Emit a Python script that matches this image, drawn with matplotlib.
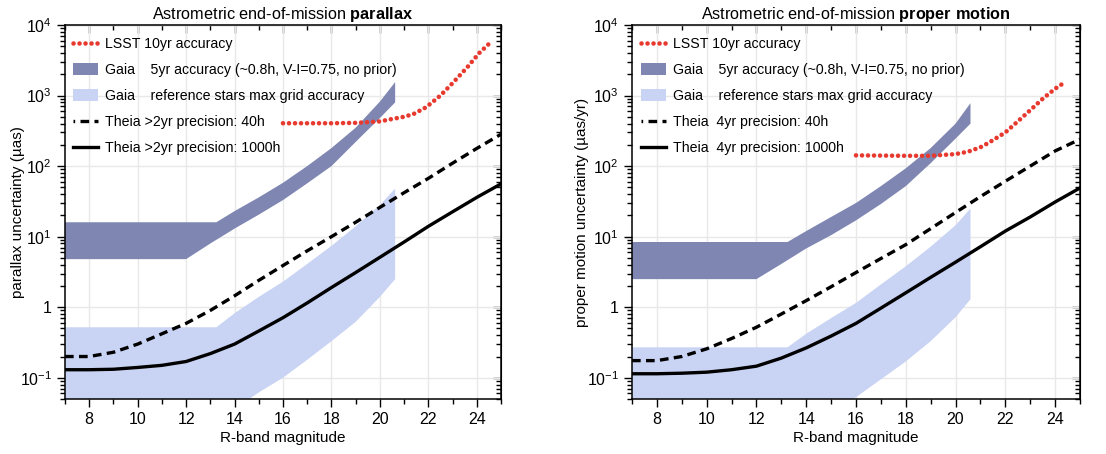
import numpy as np
import matplotlib
matplotlib.use("Agg")
from matplotlib import pyplot as plt
from matplotlib.ticker import MultipleLocator, LogLocator, FuncFormatter, NullFormatter
from matplotlib.lines import Line2D
from matplotlib.patches import Patch

plt.rcParams['font.family'] = ['Liberation Sans', 'DejaVu Sans']
plt.rcParams['mathtext.fontset'] = 'custom'
plt.rcParams['mathtext.rm'] = 'Liberation Sans'
plt.rcParams['mathtext.bf'] = 'Liberation Sans:bold'

# ---- parallax panel (values in muas) ----
gaia_px_up_mag = [7, 13.25, 14, 15, 16, 17, 18, 19, 20, 20.63]
gaia_px_up = [16, 16, 23, 36, 58, 100, 180, 350, 820, 1550]
gaia_px_lo_mag = [7, 12, 13, 14, 15, 16, 17, 18, 19, 20, 20.63]
gaia_px_lo = [4.8, 4.8, 8, 13, 20.5, 33, 57, 100, 220, 480, 800]

ref_px_up_mag = [7, 13.25, 14, 15, 16, 17, 18, 19, 20, 20.63]
ref_px_up = [0.52, 0.52, 0.82, 1.4, 2.3, 4.1, 7.4, 14, 28, 48]
ref_px_lo_mag = [7, 12, 13, 14, 15, 16, 17, 18, 19, 20, 20.63]
ref_px_lo = [0.015, 0.015, 0.022, 0.036, 0.062, 0.1, 0.18, 0.33, 0.62, 1.4, 2.5]

theia_mag = [7, 8, 9, 10, 11, 12, 13, 14, 15, 16, 17, 18, 19, 20, 21, 22, 23, 24, 25]
theia_px_40h = [0.2, 0.2, 0.23, 0.3, 0.42, 0.59, 0.9, 1.45, 2.4, 3.9, 6.3, 10, 16, 26, 42, 67, 110, 178, 283]
theia_px_1000h = [0.13, 0.13, 0.132, 0.14, 0.15, 0.17, 0.22, 0.3, 0.46, 0.71, 1.15, 1.9, 3.1, 5.1, 8.4, 14, 22.5, 36, 56]

lsst_px_mag = [16, 17, 18, 19, 20, 20.5, 21, 21.4, 21.9, 22.5, 23, 23.6, 24.1, 24.5]
lsst_px = [405, 405, 405, 410, 430, 465, 500, 550, 680, 1000, 1500, 2500, 4000, 5400]

# ---- proper motion panel (values in muas/yr) ----
gaia_pm_up_mag = [7, 13.25, 14, 15, 16, 17, 18, 19, 20, 20.6]
gaia_pm_up = [8.4, 8.4, 12, 19, 30, 52, 93, 180, 400, 780]
gaia_pm_lo_mag = [7, 12, 13, 14, 15, 16, 17, 18, 19, 20, 20.6]
gaia_pm_lo = [2.5, 2.5, 4.1, 6.8, 10.5, 17, 29, 52, 110, 245, 400]

ref_pm_up_mag = [7, 13.25, 14, 15, 16, 17, 18, 19, 20, 20.6]
ref_pm_up = [0.27, 0.27, 0.42, 0.7, 1.15, 2.1, 3.8, 7.2, 14.5, 25]
ref_pm_lo_mag = [7, 12, 13, 14, 15, 16, 17, 18, 19, 20, 20.6]
ref_pm_lo = [0.008, 0.008, 0.012, 0.019, 0.033, 0.053, 0.095, 0.17, 0.33, 0.72, 1.3]

theia_pm_40h = [0.175, 0.175, 0.2, 0.257, 0.36, 0.52, 0.8, 1.24, 1.95, 3.1, 4.9, 7.7, 13, 22, 37, 61, 100, 164, 240]
theia_pm_1000h = [0.114, 0.114, 0.116, 0.12, 0.13, 0.146, 0.19, 0.265, 0.39, 0.59, 0.97, 1.6, 2.65, 4.35, 7.2, 12, 19, 31, 49]

lsst_pm_mag = [16, 17, 18, 19, 20, 20.5, 21, 21.34, 22, 22.5, 23, 23.5, 24, 24.4]
lsst_pm = [142, 141, 140, 140, 148, 160, 185, 215, 300, 430, 620, 900, 1250, 1550]

dark = '#7e86b1'
light = '#c9d3f3'
red = '#e8392f'
dots = (0, (0.01, 1.3))
dashes = (0, (2.6, 1.6))

W, H = 1106, 454
LEG_FS = 10.2


def ytick(v, pos):
    if abs(v - 1) < 1e-9:
        return '1'
    return r'$10^{%d}$' % int(round(np.log10(v)))


def make_legend(ax, handles, labels, ls, anchor):
    return ax.legend(handles, labels, loc='upper left', bbox_to_anchor=anchor,
                     frameon=False, fontsize=LEG_FS,
                     handlelength=1.8, handleheight=0.87, handletextpad=0.46,
                     labelspacing=ls, borderaxespad=0, borderpad=0)


def place_legend(fig, ax, handles, labels, text_x, first_y, pitch):
    # put the legend rows where the reference has them (pixel targets)
    em = LEG_FS * 100 / 72.0
    ls = 0.9
    leg = make_legend(ax, handles, labels, ls, (0, 1))
    fig.canvas.draw()
    r = fig.canvas.get_renderer()
    ext = [t.get_window_extent(r) for t in leg.get_texts()]
    cur = ((ext[0].y0 + ext[0].y1) - (ext[-1].y0 + ext[-1].y1)) / 2 / (len(ext) - 1)
    ls = ls + (pitch - cur) / em
    leg.remove()
    leg = make_legend(ax, handles, labels, ls, (0, 1))
    fig.canvas.draw()
    ext = leg.get_texts()[0].get_window_extent(r)
    bb = ax.get_window_extent(r)
    dx = (text_x - ext.x0) / bb.width
    dy = ((H - first_y) - (ext.y0 + ext.y1) / 2) / bb.height
    leg.remove()
    make_legend(ax, handles, labels, ls, (dx, 1 + dy))


def panel(fig, ax, title, ylabel, gu_m, gu, gl_m, gl, ru_m, ru, rl_m, rl,
          t40, t1000, ls_m, ls, theia_txt, text_x, ylab_x):
    ax.fill(list(gu_m) + list(gl_m[::-1]), list(gu) + list(gl[::-1]),
            color=dark, lw=0, zorder=2)
    ax.fill(list(ru_m) + list(rl_m[::-1]), list(ru) + list(rl[::-1]),
            color=light, lw=0, zorder=2)
    ax.plot(theia_mag, t40, color='k', lw=2.4, linestyle=dashes, zorder=3)
    ax.plot(theia_mag, t1000, color='k', lw=2.4, zorder=3)
    ax.plot(ls_m, ls, color=red, lw=3.3, linestyle=dots,
            dash_capstyle='round', zorder=4)

    ax.set_yscale('log')
    ax.set_xlim(7, 25)
    ax.set_ylim(0.05, 1e4)
    ax.xaxis.set_major_locator(MultipleLocator(2))
    ax.xaxis.set_minor_locator(MultipleLocator(1))
    ax.yaxis.set_major_locator(LogLocator(base=10, numticks=20))
    ax.yaxis.set_minor_locator(LogLocator(base=10, subs=np.arange(2, 10), numticks=20))
    ax.yaxis.set_major_formatter(FuncFormatter(ytick))
    ax.yaxis.set_minor_formatter(NullFormatter())
    ax.grid(True, which='major', color='#e8e8e8', lw=1.0, zorder=0)
    ax.set_axisbelow(True)
    ax.tick_params(which='both', direction='out', labelsize=11.5, width=1.0)
    ax.tick_params(which='major', length=6)
    ax.tick_params(which='minor', length=3.5)
    for s in ax.spines.values():
        s.set_linewidth(1.1)

    top = ax.secondary_xaxis('top')
    top.xaxis.set_major_locator(MultipleLocator(2))
    top.xaxis.set_minor_locator(MultipleLocator(1))
    top.tick_params(which='both', direction='in', labeltop=False, width=1.0)
    top.tick_params(which='major', length=6)
    top.tick_params(which='minor', length=3.5)
    right = ax.secondary_yaxis('right')
    right.yaxis.set_major_locator(LogLocator(base=10, numticks=20))
    right.yaxis.set_minor_locator(LogLocator(base=10, subs=np.arange(2, 10), numticks=20))
    right.tick_params(which='both', direction='in', labelright=False, width=1.0)
    right.tick_params(which='major', length=6)
    right.tick_params(which='minor', length=3.5)

    ax.set_title(title, fontsize=11.7, pad=4)
    ax.set_xlabel('R-band magnitude', fontsize=11, labelpad=3)
    ax.set_ylabel(ylabel, fontsize=11)
    bb = ax.get_position()
    ax.yaxis.set_label_coords((ylab_x - bb.x0 * W) / (bb.width * W), 0.5)

    handles = [
        Line2D([], [], color=red, lw=3.3, linestyle=dots, dash_capstyle='round'),
        Patch(color=dark, lw=0),
        Patch(color=light, lw=0),
        Line2D([], [], color='k', lw=2.4, linestyle=(2.1, (2.6, 1.6))),
        Line2D([], [], color='k', lw=2.4),
    ]
    labels = [
        'LSST 10yr accuracy',
        'Gaia    5yr accuracy (~0.8h, V-I=0.75, no prior)',
        'Gaia    reference stars max grid accuracy',
        theia_txt + ' precision: 40h',
        theia_txt + ' precision: 1000h',
    ]
    place_legend(fig, ax, handles, labels, text_x, 44, 26.0)


fig = plt.figure(figsize=(W / 100, H / 100), dpi=100)
ax1 = fig.add_axes([65 / W, 1 - 399 / H, 436 / W, 374 / H])
ax2 = fig.add_axes([632 / W, 1 - 399 / H, 448 / W, 374 / H])

panel(fig, ax1, r'Astrometric end-of-mission $\mathbf{parallax}$', 'parallax uncertainty (µas)',
      gaia_px_up_mag, gaia_px_up, gaia_px_lo_mag, gaia_px_lo,
      ref_px_up_mag, ref_px_up, ref_px_lo_mag, ref_px_lo,
      theia_px_40h, theia_px_1000h, lsst_px_mag, lsst_px, 'Theia >2yr', 105, 25)
panel(fig, ax2, r'Astrometric end-of-mission $\mathbf{proper\ motion}$', 'proper motion uncertainty (µas/yr)',
      gaia_pm_up_mag, gaia_pm_up, gaia_pm_lo_mag, gaia_pm_lo,
      ref_pm_up_mag, ref_pm_up, ref_pm_lo_mag, ref_pm_lo,
      theia_pm_40h, theia_pm_1000h, lsst_pm_mag, lsst_pm, 'Theia  4yr', 673, 589)

fig.savefig('out.png', dpi=100)
